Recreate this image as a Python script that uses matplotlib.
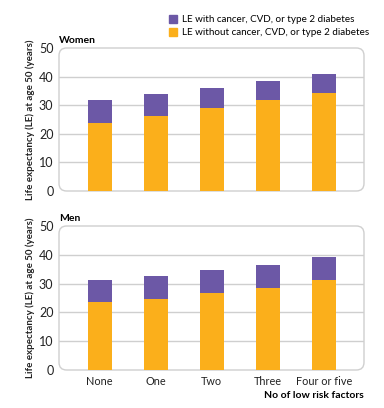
import matplotlib
matplotlib.use("Agg")
import matplotlib.pyplot as plt
from matplotlib.patches import FancyBboxPatch, Patch
import numpy as np

plt.rcParams['font.family'] = ['Lato', 'DejaVu Sans']

categories = ["None", "One", "Two", "Three", "Four or five"]
women_without = [23.7, 26.2, 29.0, 31.8, 34.2]
women_total = [31.8, 33.8, 35.9, 38.5, 40.9]
men_without = [23.6, 24.7, 26.6, 28.5, 31.25]
men_total = [31.1, 32.5, 34.6, 36.3, 39.1]
yticks = [0, 10, 20, 30, 40, 50]

purple = "#6C58A6"
orange = "#FBAF1B"
grid_c = "#CFCFCF"
text_c = "#222222"

fig = plt.figure(figsize=(3.84, 4.08), dpi=100)
W, H = 384, 408

def make_ax(top_px, bot_px, title, without, total, show_x):
    left, right = 59, 364
    ax = fig.add_axes([left / W, 1 - bot_px / H, (right - left) / W, (bot_px - top_px) / H])
    x = np.arange(len(categories))
    with_part = [t - w for t, w in zip(total, without)]
    ax.bar(x, without, width=0.43, color=orange, zorder=3)
    ax.bar(x, with_part, bottom=without, width=0.43, color=purple, zorder=3)
    ax.set_xlim(-0.727, 4.72)
    ax.set_ylim(0, 50)
    ax.set_yticks(yticks)
    for v in yticks[1:-1]:
        ax.axhline(v, color=grid_c, lw=1.0, zorder=1)
    for s in ax.spines.values():
        s.set_visible(False)
    ax.patch.set_visible(False)
    box = FancyBboxPatch((0, 0), 1, 1, boxstyle="round,pad=0,rounding_size=0.025",
                         transform=ax.transAxes, fill=False, ec=grid_c, lw=1.0,
                         zorder=2, clip_on=False, mutation_aspect=305/143)
    ax.add_patch(box)
    ax.tick_params(axis='y', length=0, pad=4, labelsize=9, labelcolor=text_c)
    ax.tick_params(axis='x', length=0, pad=4, labelsize=7.8, labelcolor=text_c)
    ax.set_xticks(x)
    if show_x:
        ax.set_xticklabels(categories)
    else:
        ax.set_xticklabels([])
    ax.text(0, 1.02, title, transform=ax.transAxes, fontsize=7.5, fontweight='bold',
            ha='left', va='bottom', color='black')
    ax.set_ylabel("Life expectancy (LE) at age 50 (years)", fontsize=7, fontweight='bold',
                  color=text_c, labelpad=3)
    return ax

ax1 = make_ax(48, 191, "Women", women_without, women_total, False)
ax2 = make_ax(226, 370, "Men", men_without, men_total, True)
ax2.set_xlabel("No of low risk factors", fontsize=7.5, fontweight='bold', color='black',
               loc='right', labelpad=3)

handles = [Patch(color=purple, label="LE with cancer, CVD, or type 2 diabetes"),
           Patch(color=orange, label="LE without cancer, CVD, or type 2 diabetes")]
fig.legend(handles=handles, loc='upper left', bbox_to_anchor=(169 / W, 1 - 15 / H),
           frameon=False, fontsize=7.1, handlelength=0.8, handleheight=0.8,
           handletextpad=0.5, labelspacing=0.4, borderaxespad=0, borderpad=0)

fig.savefig("out.png", dpi=100)
